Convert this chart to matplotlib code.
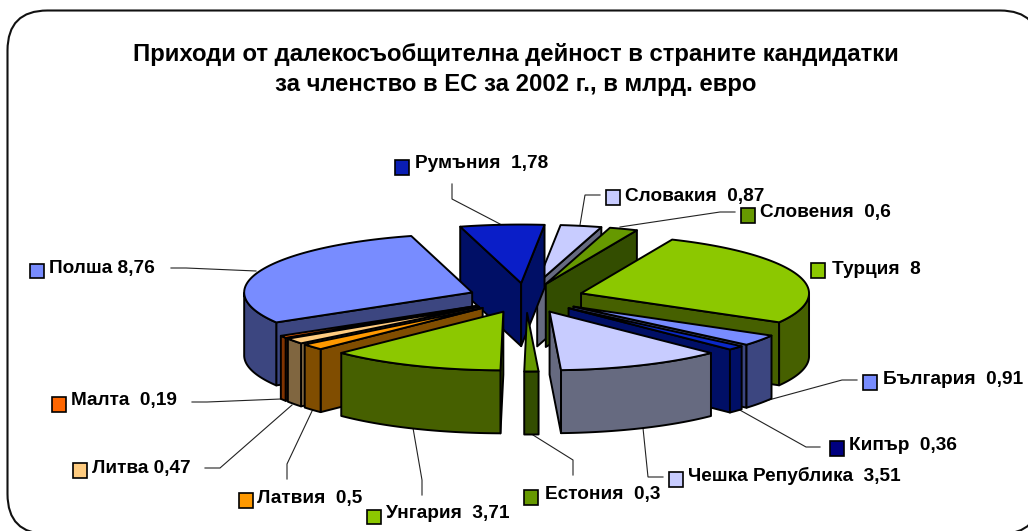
import numpy as np
import matplotlib
matplotlib.use("Agg")
import matplotlib.pyplot as plt
from matplotlib.patches import Polygon, FancyBboxPatch, Rectangle

plt.rcParams['font.family'] = ['Liberation Sans', 'DejaVu Sans']

# ---- data ----
countries = ["Румъния", "Словакия", "Словения", "Турция", "България", "Кипър",
             "Чешка Република", "Естония", "Унгария", "Латвия", "Литва", "Малта", "Полша"]
values = [1.78, 0.87, 0.6, 8, 0.91, 0.36, 3.51, 0.3, 3.71, 0.5, 0.47, 0.19, 8.76]
separators = ["  ", "  ", "  ", "  ", "  ", "  ", "  ", "  ", "  ", "  ", " ", "  ", " "]
title_lines = ["Приходи от далекосъобщителна дейност в страните кандидатки",
               "за членство в ЕС за 2002 г., в млрд. евро"]

# ---- style ----
top_colors = ["#0a1ec8", "#c8ccff", "#669900", "#8cc800", "#788cff", "#0a28c8",
              "#c8ccff", "#669900", "#8cc800", "#ff9900", "#ffcc80", "#ff6600", "#788cff"]
swatch_colors = ["#0a1eb4", "#c8ccff", "#669900", "#8cc800", "#788cff", "#000080",
                 "#c8ccff", "#669900", "#8cc800", "#ff9900", "#ffcc80", "#ff6600", "#788cff"]
wall_colors = ["#000f66", "#666a80", "#334d00", "#466000", "#3c4680", "#000f66",
               "#666a80", "#334d00", "#466000", "#804d00", "#806640", "#803300", "#3c4680"]
draw_order = [1, 2, 0, 3, 4, 5, 6, 12, 11, 10, 9, 8, 7]
CX, CY, R, SQ, H, EXPLODE, START = 526, 298, 228, 0.257, 63, 58, -15.5
EDGE = 1.4

# ---- layout (swatch left, swatch top, text x, text centre y) ----
label_pos = [(394.5, 160, 415, 164), (605.5, 190, 625, 196), (740.5, 208, 760, 213),
             (810.5, 263, 832, 269), (862.5, 375, 883, 379), (829.5, 441, 849, 446),
             (668.5, 472, 688, 476), (523.5, 490, 545, 495), (366.5, 509.5, 386, 514),
             (238.5, 493, 257, 499), (72.5, 463, 92, 469), (51.5, 397, 71, 401),
             (29.5, 263.5, 49, 269)]
leaders = [[(452, 184), (452, 199), (500, 224)],
           [(600, 195), (585, 195), (580, 225)],
           [(735, 212), (720, 212), (620, 227)],
           None,
           [(857, 380), (842, 380), (765, 401)],
           [(820, 447), (806, 447), (738, 409)],
           [(663, 477), (648, 477), (643, 428)],
           [(573, 475), (573, 460), (533, 435)],
           [(422, 495), (422, 480), (413, 428)],
           [(287, 479), (287, 464), (313, 409)],
           [(205, 468), (220, 468), (292, 405)],
           [(192, 402), (207, 402), (281, 399)],
           [(171, 268), (186, 268), (256, 271)]]

fig = plt.figure(figsize=(10.28, 5.31), dpi=100)
ax = fig.add_axes([0, 0, 1, 1])
ax.set_xlim(0, 1028)
ax.set_ylim(531, 0)
ax.axis("off")

ax.add_patch(FancyBboxPatch((47.5, 50.5), 952.5, 443.5,
                            boxstyle="round,pad=40,rounding_size=40",
                            fc="white", ec="#111111", lw=1.5, clip_on=True))

for ln, y in zip(title_lines, (54, 84)):
    ax.text(516, y, ln, ha="center", va="center", fontsize=17.2, fontweight="bold", color="black")

# leader lines below the pie
for pts in leaders:
    if pts:
        xs, ys = zip(*pts)
        ax.plot(xs, ys, color="#222222", lw=0.8, solid_joinstyle="miter", zorder=1)

vals = np.array(values, float)
sweep = vals / vals.sum() * 360
starts = START + np.concatenate(([0], np.cumsum(sweep)[:-1]))


def project(cx, cy, ang, r=R):
    a = np.radians(ang)
    return cx + r * np.sin(a), cy - r * np.cos(a) * SQ


for z, i in enumerate(draw_order):
    a0, a1 = starts[i], starts[i] + sweep[i]
    mid = np.radians((a0 + a1) / 2)
    cx = CX + EXPLODE * np.sin(mid)
    cy = CY - EXPLODE * np.cos(mid) * SQ
    arc = np.linspace(a0, a1, max(int(sweep[i]), 3))
    ax_, ay_ = project(cx, cy, arc)
    kw = dict(ec="black", lw=EDGE, joinstyle="round", zorder=2 + z)
    # radial faces
    for ang, vis in ((a0, np.sin(np.radians(a0)) < 0), (a1, np.sin(np.radians(a1)) > 0)):
        if vis:
            ex, ey = project(cx, cy, ang)
            ax.add_patch(Polygon([(cx, cy), (ex, ey), (ex, ey + H), (cx, cy + H)],
                                 fc=wall_colors[i], **kw))
    # outer wall, only the part turned towards the viewer
    m = np.cos(np.radians(arc)) < 0
    if m.sum() >= 2:
        xs, ys = ax_[m], ay_[m]
        pts = list(zip(xs, ys)) + list(zip(xs[::-1], ys[::-1] + H))
        ax.add_patch(Polygon(pts, fc=wall_colors[i], **kw))
    # top
    ax.add_patch(Polygon([(cx, cy)] + list(zip(ax_, ay_)), fc=top_colors[i], **kw))

for name, v, sep, col, (sx, sy, tx, ty) in zip(countries, values, separators, swatch_colors, label_pos):
    ax.add_patch(Rectangle((sx, sy), 14.5, 14.5, fc=col, ec="black", lw=1.2, zorder=40))
    ax.text(tx, ty, f"{name}{sep}{v:g}".replace(".", ","), ha="left", va="center",
            fontsize=13.7, fontweight="bold", color="black", zorder=41)

fig.savefig("out.png", dpi=100)
